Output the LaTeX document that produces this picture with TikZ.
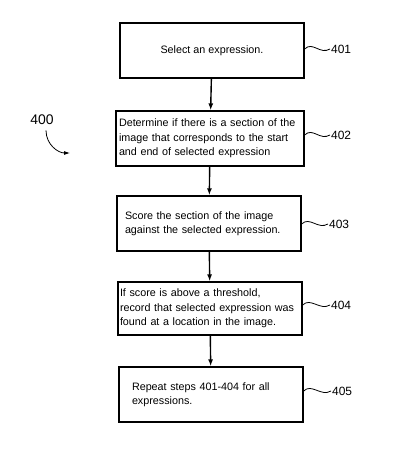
\documentclass[tikz,border=0pt]{standalone}
\usepackage{fontspec}
\setmainfont{Liberation Sans}
\usepackage{tikz}
\usetikzlibrary{arrows.meta,calc}

\tikzset{
  stepbox/.style={draw, line width=1.3pt, minimum width=184bp, minimum height=55bp,
    align=left, font=\fontsize{10.8}{14.5}\selectfont, inner sep=0pt},
  reflabel/.style={anchor=west, font=\fontsize{12}{14}\selectfont, inner sep=1pt},
  flow/.style={-{Latex[length=7pt,width=5pt]}, line width=1.4pt},
  squiggle/.style={line width=0.8pt}
}

\begin{document}
\begin{tikzpicture}[x=1bp, y=-1bp]
        \useasboundingbox (0,0) rectangle (417,453);

        \node[stepbox] (s401) at (212, 50.5) {Select an expression.};
        \node[stepbox, minimum width=188bp, text width=182bp] (s402) at (210, 138.5)
            {Determine if there is a section of the\\image that corresponds to the start\\and end of selected expression};
        \node[stepbox, text width=168bp] (s403) at (209, 223.5)
            {Score the section of the image\\against the selected expression.};
        \node[stepbox, minimum height=53bp, text width=180bp] (s404) at (210, 308.5)
            {If score is above a threshold,\\record that selected expression was\\found at a location in the image.};
        \node[stepbox, text width=158bp] (s405) at (211, 394.5)
            {Repeat steps 401-404 for all\\expressions.};

        \draw[flow] (s401) -- (s402);
        \draw[flow] (s402) -- (s403);
        \draw[flow] (s403) -- (s404);
        \draw[flow] (s404) -- (s405);

        % reference numerals
        \node[reflabel] (r401) at (330, 49) {401};
        \node[reflabel] (r402) at (330, 135) {402};
        \node[reflabel] (r403) at (328, 224) {403};
        \node[reflabel] (r404) at (330, 305) {404};
        \node[reflabel] (r405) at (331, 391) {405};

        \draw[squiggle] (s401.east |- r401) .. controls +(8,-8) and +(-10,6) .. (r401.west);
        \draw[squiggle] (s402.east |- r402) .. controls +(8,-8) and +(-10,6) .. (r402.west);
        \draw[squiggle] (s403.east |- r403) .. controls +(8,-8) and +(-10,6) .. (r403.west);
        \draw[squiggle] (s404.east |- r404) .. controls +(8,-8) and +(-10,6) .. (r404.west);
        \draw[squiggle] (s405.east |- r405) .. controls +(8,-8) and +(-10,6) .. (r405.west);

        \node[font=\fontsize{14}{16}\selectfont] (r400) at (42, 120) {400};
        \coordinate (t400) at (70, 153);
        \draw[-{Latex[length=6pt,width=4pt]}, line width=0.8pt]
            ($(r400.south)+(4,2)$) .. controls +(0,14) and +(-12,0) .. (t400);
    \end{tikzpicture}
\end{document}
